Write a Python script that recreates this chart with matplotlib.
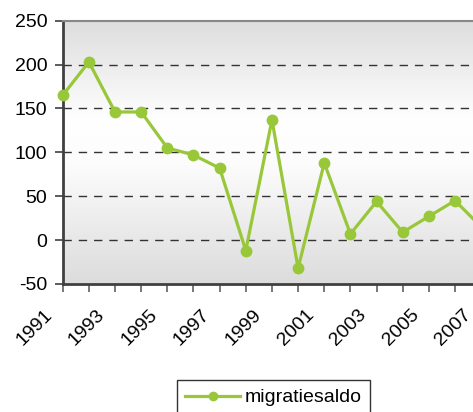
import numpy as np
import matplotlib
matplotlib.use("Agg")
import matplotlib.pyplot as plt
from matplotlib.colors import LinearSegmentedColormap

# data
years = [1991, 1992, 1993, 1994, 1995, 1996, 1997, 1998, 1999,
         2000, 2001, 2002, 2003, 2004, 2005, 2006, 2007]
migratiesaldo = [165, 203, 146, 146, 105, 97, 82, -12, 137,
                 -32, 88, 7, 44, 9, 27, 45, 15]
y_ticks = [-50, 0, 50, 100, 150, 200, 250]
x_labels = [1991, 1993, 1995, 1997, 1999, 2001, 2003, 2005, 2007]

GREEN = "#99c73a"

plt.rcParams["font.family"] = ["Liberation Sans", "DejaVu Sans"]

fig = plt.figure(figsize=(4.73, 4.12), dpi=100)
ax = fig.add_axes([0.1326, 0.3107, 0.94, 0.6391])
ax.set_xlim(1991, 2008)
ax.set_ylim(-50, 250)

# gray -> white -> gray background gradient
bg = LinearSegmentedColormap.from_list(
    "bg", [(0.0, "#dddddd"), (0.38, "#ffffff"), (0.55, "#fcfcfc"), (1.0, "#dcdcdc")])
grad = np.linspace(0, 1, 256).reshape(-1, 1)
ax.imshow(grad, cmap=bg, aspect="auto", extent=(1991, 2008, -50, 250),
          origin="upper", zorder=0)

# dashed grid lines
for v in y_ticks[1:-1]:
    ax.axhline(v, color="#333333", lw=1.0, ls=(0, (6, 5)), zorder=1)

ax.plot(years, migratiesaldo, color=GREEN, lw=2.3, marker="o", markersize=7.5,
        markeredgecolor=GREEN, label="migratiesaldo", zorder=3, clip_on=False)

ax.set_yticks(y_ticks)
ax.set_yticklabels([str(v) for v in y_ticks], fontsize=14)
ax.set_xticks(years + [2008])
ax.set_xticklabels([])

# rotated year labels, placed down-left of their tick like the original
for y in x_labels:
    ax.annotate(str(y), xy=(y, 0), xycoords=("data", "axes fraction"),
                xytext=(-13.5, -16), textcoords="offset points",
                rotation=45, ha="right", va="top", rotation_mode="anchor",
                fontsize=14, annotation_clip=False)

ax.tick_params(axis="y", length=6, width=1.2, color="#404040", pad=5)
ax.tick_params(axis="x", length=6, width=1.2, color="#606060")

for side in ["left", "bottom"]:
    ax.spines[side].set_color("#404040")
    ax.spines[side].set_linewidth(2)
ax.spines["top"].set_color("#888888")
ax.spines["top"].set_linewidth(1.5)
ax.spines["right"].set_visible(False)

leg = fig.legend(loc="upper center", bbox_to_anchor=(273.5 / 473, 1 - 380 / 412),
                 fontsize=14, frameon=True, fancybox=False, handlelength=2.8,
                 borderpad=0.45, handletextpad=0.25, borderaxespad=0,
                 markerscale=0.8)
leg.get_frame().set_edgecolor("black")
leg.get_frame().set_linewidth(1.0)

fig.savefig("out.png", dpi=100)
